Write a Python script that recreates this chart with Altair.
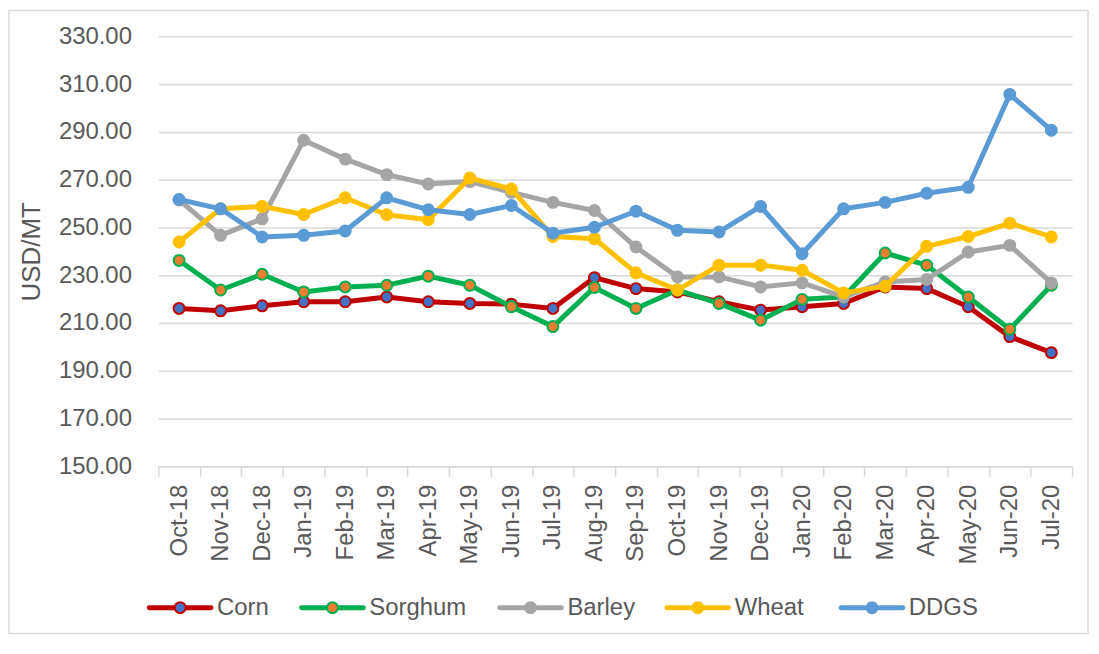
import altair as alt
import pandas as pd

# ---------------- data ----------------
months = ["Oct-18", "Nov-18", "Dec-18", "Jan-19", "Feb-19", "Mar-19", "Apr-19",
          "May-19", "Jun-19", "Jul-19", "Aug-19", "Sep-19", "Oct-19", "Nov-19",
          "Dec-19", "Jan-20", "Feb-20", "Mar-20", "Apr-20", "May-20", "Jun-20",
          "Jul-20"]

corn = [216.1, 215.1, 217.2, 218.9, 218.9, 220.9, 218.9, 218.2, 217.9, 216.1, 229.0,
        224.4, 223.0, 218.9, 215.4, 216.8, 218.2, 225.1, 224.4, 216.8, 204.3, 197.6]
sorghum = [236.2, 223.8, 230.4, 223.0, 225.1, 225.8, 229.6, 225.8, 216.8, 208.5, 224.9,
           216.1, 223.8, 218.2, 211.2, 219.9, 220.9, 239.3, 234.2, 220.9, 207.4, 225.8]
barley = [261.5, 246.7, 253.6, 286.5, 278.6, 272.1, 268.2, 269.2, 264.7, 260.5, 257.1,
          241.8, 229.3, 229.3, 225.1, 226.8, 220.9, 227.2, 228.2, 239.7, 242.5, 226.8]
wheat = [243.9, 257.8, 258.8, 255.4, 262.4, 255.3, 253.2, 270.7, 266.1, 246.2, 245.3,
         231.0, 223.8, 234.2, 234.2, 232.1, 222.6, 225.4, 242.1, 246.2, 251.8, 246.0]
ddgs = [261.7, 257.8, 246.0, 246.7, 248.5, 262.4, 257.4, 255.4, 259.2, 247.6, 250.1,
        256.8, 248.8, 248.1, 258.8, 239.0, 257.8, 260.5, 264.3, 266.8, 305.7, 290.7]

series_names = ["Corn", "Sorghum", "Barley", "Wheat", "DDGS"]
y_ticks = [150, 170, 190, 210, 230, 250, 270, 290, 310, 330]

# ---------------- styles ----------------
line_colors = ["#C00000", "#00B050", "#A5A5A5", "#FFC000", "#5B9BD5"]
marker_fills = ["#4472C4", "#ED7D31", "#A5A5A5", "#FFC000", "#5B9BD5"]

W, H = 918, 432
FONT = "Liberation Sans"
TEXT = "#595959"
GRID = "#D9D9D9"
MSIZE = 121

rows = []
for name, vals in zip(series_names, [corn, sorghum, barley, wheat, ddgs]):
    for m, v in zip(months, vals):
        rows.append({"month": m, "series": name, "value": v})
df = pd.DataFrame(rows)

x_enc = alt.X(
    "month:N", sort=months,
    scale=alt.Scale(type="band", domain=months, paddingInner=0, paddingOuter=0),
    axis=alt.Axis(title=None, labelAngle=270, labelFont=FONT, labelFontSize=24,
                  labelColor=TEXT, labelOverlap=False, tickBand="extent",
                  ticks=True, tickSize=10, tickColor=GRID, tickWidth=1.5,
                  domainColor=GRID, domainWidth=1.5, grid=False, labelPadding=8),
)
y_enc = alt.Y(
    "value:Q",
    scale=alt.Scale(domain=[150, 330], nice=False, zero=False),
    axis=alt.Axis(values=y_ticks, format=".2f", title="USD/MT", grid=True,
                  gridColor=GRID, gridWidth=1.5, domain=False, ticks=False,
                  labelPadding=27, labelFont=FONT, labelFontSize=24, labelColor=TEXT,
                  titleFont=FONT, titleFontSize=26, titleColor=TEXT,
                  titleFontWeight="normal", titleAngle=270, titleX=-127,
                  titleY=H / 2, titleAlign="center", titleBaseline="middle"),
)

layers = []
for name, lc, mf in zip(series_names, line_colors, marker_fills):
    base = alt.Chart(df).transform_filter(alt.datum.series == name)
    layers.append(base.mark_line(color=lc, strokeWidth=5, strokeJoin="round",
                                 strokeCap="round").encode(x=x_enc, y=y_enc))
    layers.append(base.mark_point(shape="circle", filled=True, fill=mf, stroke=lc,
                                  strokeWidth=2, size=MSIZE, opacity=1)
                  .encode(x=x_enc, y=y_enc))
main = alt.layer(*layers)

# ---------------- legend (bottom) ----------------
legend_x = [-9, 144, 343, 511, 686]  # layout positions (px from plot left)
LEG_LEN = 62
LEG_Y = 574
leg_df = pd.DataFrame({
    "series": series_names,
    "x0": legend_x,
    "x1": [v + LEG_LEN for v in legend_x],
    "xm": [v + LEG_LEN / 2 for v in legend_x],
    "xt": [v + LEG_LEN + 6 for v in legend_x],
    "lc": line_colors,
    "mf": marker_fills,
})
lx = alt.Scale(domain=[0, W], nice=False, zero=False)

leg_rule = alt.Chart(leg_df).mark_rule(strokeWidth=5, strokeCap="round").encode(
    x=alt.X("x0:Q", scale=lx, axis=None), x2="x1:Q", y=alt.value(LEG_Y),
    color=alt.Color("lc:N", scale=None))
leg_pt = alt.Chart(leg_df).mark_point(shape="circle", filled=True, size=MSIZE,
                                      strokeWidth=2, opacity=1).encode(
    x=alt.X("xm:Q", scale=lx, axis=None), y=alt.value(LEG_Y),
    fill=alt.Fill("mf:N", scale=None), stroke=alt.Stroke("lc:N", scale=None))
leg_txt = alt.Chart(leg_df).mark_text(align="left", baseline="middle", font=FONT,
                                      fontSize=24, color=TEXT).encode(
    x=alt.X("xt:Q", scale=lx, axis=None), y=alt.value(LEG_Y), text="series:N")

border = alt.Chart(pd.DataFrame({"a": [0]})).mark_rect(
    fillOpacity=0, stroke=GRID, strokeWidth=1.5).encode(
    x=alt.value(-150), x2=alt.value(W + 16), y=alt.value(-26), y2=alt.value(H + 168))

legend = alt.layer(border, leg_rule, leg_pt, leg_txt)

chart = (
    alt.layer(main, legend)
    .resolve_scale(x="independent")
    .properties(width=W, height=H,
                padding={"left": 151, "top": 27, "right": 19, "bottom": 172},
                autosize=alt.AutoSizeParams(type="none"))
    .configure_view(stroke=None)
)

chart.save("out.html", embed_options={"renderer": "svg", "actions": False})
